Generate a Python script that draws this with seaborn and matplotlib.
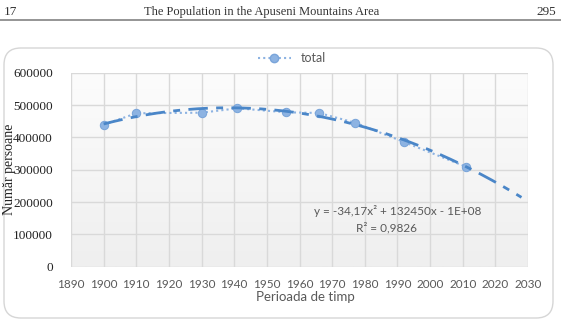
import numpy as np
import pandas as pd
import seaborn as sns
import matplotlib.pyplot as plt
from matplotlib.patches import FancyBboxPatch
from matplotlib.lines import Line2D

# census years and total population
years = [1900, 1910, 1930, 1941, 1956, 1966, 1977, 1992, 2011]
total = [439000, 474500, 476300, 489900, 477500, 475400, 445400, 385700, 309300]

x_ticks = list(range(1890, 2031, 10))
y_ticks = [0, 100000, 200000, 300000, 400000, 500000, 600000]

df = pd.DataFrame({'an': years, 'total': total})

sns.set_style('white')
plt.rcParams['font.family'] = ['Lato', 'DejaVu Sans']

fig = plt.figure(figsize=(5.61, 3.19), dpi=100)
W, H = 561, 319

# page header
fig.text(4 / W, 1 - 12 / H, '17', family='Liberation Serif', fontsize=9.5, va='center', ha='left', color='#333333')
fig.text(262 / W, 1 - 12 / H, 'The Population in the Apuseni Mountains Area', family='Liberation Serif',
         fontsize=9, va='center', ha='center', color='#333333')
fig.text(556 / W, 1 - 12 / H, '295', family='Liberation Serif', fontsize=9.5, va='center', ha='right', color='#333333')
fig.add_artist(Line2D([0, 1], [1 - 20 / H, 1 - 20 / H], color='#8c8c8c', lw=1.3, transform=fig.transFigure))

# chart frame with rounded corners
frame = FancyBboxPatch((4 / W, 1 / H), 549 / W, 270 / H, boxstyle='round,pad=0,rounding_size=0.03',
                       transform=fig.transFigure, facecolor='white', edgecolor='#d6d6d6', lw=1.0,
                       mutation_aspect=W / H)
fig.add_artist(frame)

ax = fig.add_axes([71 / W, 1 - 266.7 / H, 457 / W, 194 / H])
ax.set_zorder(2)

# faint gradient in the plot area
grad = np.linspace(1, 0, 100).reshape(-1, 1)
ax.imshow(grad, extent=[0, 1, 0, 1], transform=ax.transAxes, aspect='auto',
          cmap=sns.blend_palette(['#efefef', '#fcfcfc'], as_cmap=True), zorder=0)

# data series
sns.lineplot(data=df, x='an', y='total', ax=ax, color='#8db3e2', lw=1.5, linestyle=(0, (1, 1.5)),
             marker='o', markersize=6, markerfacecolor='#8db3e2', markeredgecolor='#7aa5da', zorder=3)

# polynomial trendline of order 2, extended forward
coef = np.polyfit(years, total, 2)
xt = np.linspace(1900, 2028, 200)
ax.plot(xt, np.polyval(coef, xt), color='#4a86c8', lw=2, dashes=(7, 3, 2.5, 3), zorder=4)

ax.set_xlim(1890, 2030)
ax.set_ylim(0, 600000)
ax.set_xticks(x_ticks)
ax.set_yticks(y_ticks)
ax.set_xticklabels([str(t) for t in x_ticks], fontsize=8.5, color='#595959')
ax.set_yticklabels([str(t) for t in y_ticks], family='Liberation Serif', fontsize=9.5, color='#222222')
ax.tick_params(axis='both', length=0)
ax.tick_params(axis='x', pad=9)
ax.tick_params(axis='y', pad=13)
ax.grid(True, color='#d9d9d9', lw=1)
for s in ax.spines.values():
    s.set_visible(False)
ax.set_xlabel('')
ax.set_ylabel('')

fig.text(305 / W, 1 - 297 / H, 'Perioada de timp', fontsize=9.5, color='#595959', ha='center', va='center')
fig.text(9 / W, 1 - 169 / H, 'Număr persoane', family='Liberation Serif', fontsize=10, rotation=90,
         ha='center', va='center', color='#222222')

# trendline equation
fig.text(398 / W, 1 - 211 / H, 'y = -34,17x² + 132450x - 1E+08', fontsize=8.5, color='#595959',
         ha='center', va='center', zorder=5)
fig.text(386 / W, 1 - 228 / H, 'R² = 0,9826', fontsize=8.5, color='#595959', ha='center', va='center', zorder=5)

# legend
h = Line2D([], [], color='#8db3e2', lw=1.5, linestyle=(0, (1, 1.5)), marker='o', markersize=6,
           markerfacecolor='#8db3e2', markeredgecolor='#7aa5da')
fig.legend([h], ['total'], loc='center', bbox_to_anchor=(292 / W, 1 - 58 / H), frameon=False,
           fontsize=9, handlelength=2.6, labelcolor='#595959')

fig.savefig('out.png', dpi=100)
